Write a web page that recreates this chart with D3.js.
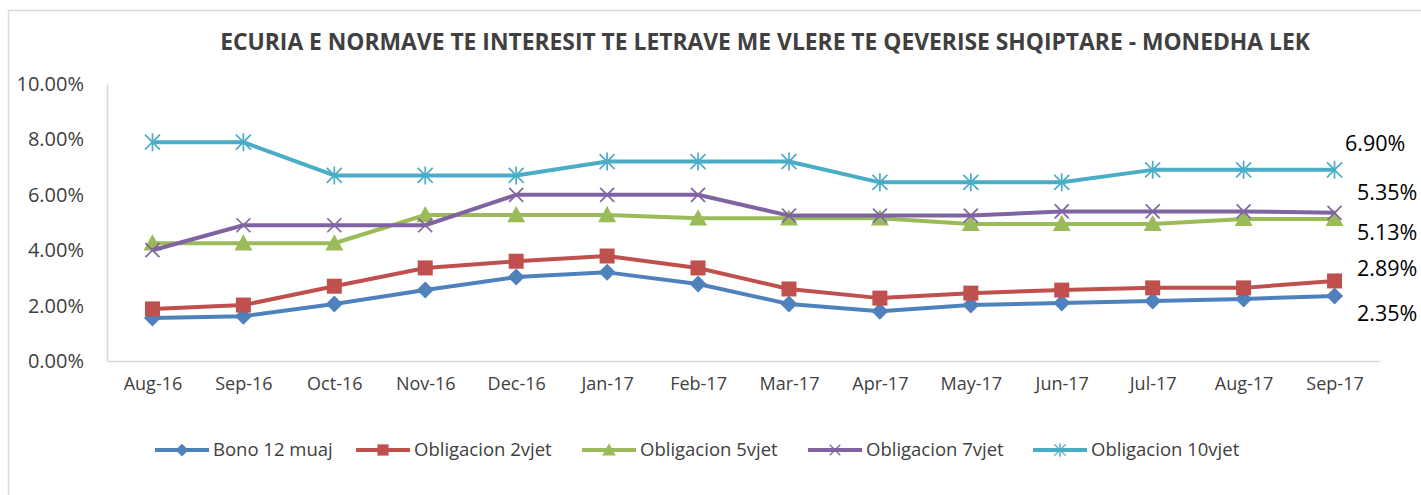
<!DOCTYPE html>
<html>
<head>
<meta charset="utf-8">
<script src="https://cdn.jsdelivr.net/npm/d3@7"></script>
<style>
  body { margin: 0; background: #fff; }
  svg { font-family: "Open Sans", "Noto Sans", sans-serif; }
</style>
</head>
<body>
<svg width="1421" height="495"></svg>
<script>
const months = ['Aug-16', 'Sep-16', 'Oct-16', 'Nov-16', 'Dec-16', 'Jan-17', 'Feb-17',
    'Mar-17', 'Apr-17', 'May-17', 'Jun-17', 'Jul-17', 'Aug-17', 'Sep-17']

const seriesNames = ['Bono 12 muaj', 'Obligacion 2vjet', 'Obligacion 5vjet', 'Obligacion 7vjet', 'Obligacion 10vjet']

const bono12 = [1.55, 1.62, 2.06, 2.56, 3.03, 3.20, 2.78, 2.06, 1.80, 2.02, 2.09, 2.17, 2.24, 2.35]
const oblig2 = [1.88, 2.02, 2.70, 3.36, 3.60, 3.79, 3.36, 2.60, 2.27, 2.45, 2.56, 2.64, 2.64, 2.89]
const oblig5 = [4.25, 4.25, 4.25, 5.27, 5.27, 5.27, 5.15, 5.15, 5.15, 4.95, 4.95, 4.95, 5.13, 5.13]
const oblig7 = [4.00, 4.90, 4.90, 4.90, 6.00, 6.00, 6.00, 5.25, 5.25, 5.25, 5.40, 5.40, 5.40, 5.35]
const oblig10 = [7.90, 7.90, 6.70, 6.70, 6.70, 7.20, 7.20, 7.20, 6.45, 6.45, 6.45, 6.90, 6.90, 6.90]

const yTicks = [0, 2, 4, 6, 8, 10]

const colors = ['#4f81bd', '#c0504d', '#9bbb59', '#8064a2', '#4bacc6']
const shapes = ['diamond', 'square', 'triangle', 'x', 'star']

const allSeries = [bono12, oblig2, oblig5, oblig7, oblig10]

const svg = d3.select('svg')

// outer chart border
svg.append('rect')
    .attr('x', 8.5).attr('y', 10.5)
    .attr('width', 1440).attr('height', 500)
    .attr('fill', 'none')
    .attr('stroke', '#d9d9d9')
    .attr('stroke-width', 1.5)

const title = svg.append('text')
    .attr('x', 765).attr('y', 50)
    .attr('text-anchor', 'middle')
    .attr('font-size', 18)
    .attr('font-weight', 'bold')
    .attr('fill', '#404040')
    .text('ECURIA E NORMAVE TE INTERESIT TE LETRAVE ME VLERE TE QEVERISE SHQIPTARE - MONEDHA LEK')
// grow the title until it spans the same width as in the original
const tw = title.node().getComputedTextLength()
if (tw > 0) title.attr('font-size', Math.min(24, 18 * 1090 / tw))

const x = d3.scalePoint()
    .domain(months)
    .range([107, 1380])
    .padding(0.5)

const y = d3.scaleLinear()
    .domain([0, 10])
    .range([361, 84])

// y axis
const yAxis = svg.append('g')
    .attr('transform', 'translate(107,0)')
    .call(d3.axisLeft(y).tickValues(yTicks).tickSize(0).tickPadding(23)
        .tickFormat(d => d.toFixed(2) + '%'))
yAxis.select('.domain').attr('stroke', '#d9d9d9').attr('stroke-width', 1.5)
yAxis.selectAll('text')
    .attr('font-family', '"Open Sans", sans-serif')
    .attr('font-size', 20)
    .attr('fill', '#404040')

// x axis
const xAxis = svg.append('g')
    .attr('transform', 'translate(0,361)')
    .call(d3.axisBottom(x).tickSize(0).tickPadding(16))
xAxis.select('.domain').attr('stroke', '#d9d9d9').attr('stroke-width', 1.5)
xAxis.selectAll('text')
    .attr('font-family', '"Open Sans", sans-serif')
    .attr('font-size', 18)
    .attr('fill', '#404040')

function markerPath(shape, cx, cy, k) {
    const p = d3.path()
    if (shape === 'diamond') {
        const r = 8.5 * k
        p.moveTo(cx, cy - r); p.lineTo(cx + r, cy); p.lineTo(cx, cy + r); p.lineTo(cx - r, cy); p.closePath()
    } else if (shape === 'square') {
        const r = 7.5 * k
        p.rect(cx - r, cy - r, 2 * r, 2 * r)
    } else if (shape === 'triangle') {
        const r = 9 * k
        p.moveTo(cx, cy - r); p.lineTo(cx + r, cy + r * 0.8); p.lineTo(cx - r, cy + r * 0.8); p.closePath()
    } else if (shape === 'x') {
        const r = 7 * k
        p.moveTo(cx - r, cy - r); p.lineTo(cx + r, cy + r)
        p.moveTo(cx - r, cy + r); p.lineTo(cx + r, cy - r)
    } else {
        const r = 7.5 * k
        p.moveTo(cx - r, cy - r); p.lineTo(cx + r, cy + r)
        p.moveTo(cx - r, cy + r); p.lineTo(cx + r, cy - r)
        p.moveTo(cx, cy - r - 1.5 * k); p.lineTo(cx, cy + r + 1.5 * k)
    }
    return p.toString()
}

const line = d3.line()
    .x((d, i) => x(months[i]))
    .y(d => y(d))

allSeries.forEach((values, si) => {
    const g = svg.append('g')
    g.append('path')
        .datum(values)
        .attr('d', line)
        .attr('fill', 'none')
        .attr('stroke', colors[si])
        .attr('stroke-width', 4)
        .attr('stroke-linejoin', 'round')

    const filled = si < 3
    g.selectAll('path.mk')
        .data(values)
        .join('path')
        .attr('class', 'mk')
        .attr('d', (d, i) => markerPath(shapes[si], x(months[i]), y(d), 1))
        .attr('fill', filled ? colors[si] : 'none')
        .attr('stroke', colors[si])
        .attr('stroke-width', filled ? 0 : 1.7)
})

// end value labels
const endLabelY = [313, 268, 232, 192, 143]
const endLabelX = [1357, 1357, 1357, 1357, 1345]
allSeries.forEach((values, si) => {
    svg.append('text')
        .attr('x', endLabelX[si])
        .attr('y', endLabelY[si])
        .attr('dy', '0.35em')
        .attr('font-size', 21.5)
        .attr('fill', '#000')
        .text(values[values.length - 1].toFixed(2) + '%')
})

// legend
const legendX = [155, 356, 582, 808, 1033]
const legendY = 450
seriesNames.forEach((name, si) => {
    const lg = svg.append('g')
    lg.append('line')
        .attr('x1', legendX[si]).attr('x2', legendX[si] + 54)
        .attr('y1', legendY).attr('y2', legendY)
        .attr('stroke', colors[si])
        .attr('stroke-width', 4)
    lg.append('path')
        .attr('d', markerPath(shapes[si], legendX[si] + 27, legendY, 0.75))
        .attr('fill', si < 3 ? colors[si] : 'none')
        .attr('stroke', colors[si])
        .attr('stroke-width', si < 3 ? 0 : 1.4)
    lg.append('text')
        .attr('x', legendX[si] + 58)
        .attr('y', legendY)
        .attr('dy', '0.35em')
        .attr('font-size', 18.5)
        .attr('fill', '#404040')
        .text(name)
})
</script>
</body>
</html>
